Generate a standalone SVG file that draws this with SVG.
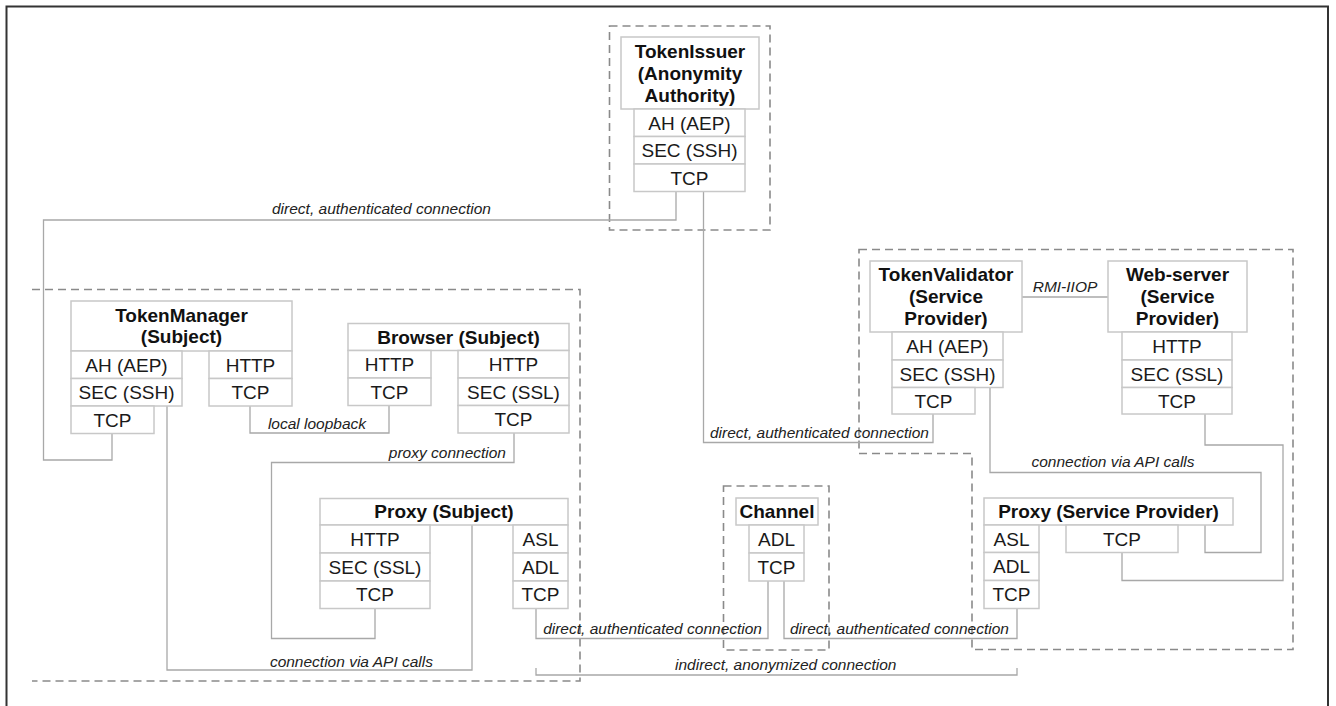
<svg xmlns="http://www.w3.org/2000/svg" width="1336" height="706" viewBox="0 0 1336 706">
<style>
.b{fill:#fff;stroke:#c8c8c8;stroke-width:1.5}
.t{font-family:"Liberation Sans",Arial,sans-serif;font-size:19px;fill:#1a1a1a;text-anchor:middle}
.h{font-family:"Liberation Sans",Arial,sans-serif;font-size:19px;font-weight:bold;fill:#111;text-anchor:middle}
.l{font-family:"Liberation Sans",Arial,sans-serif;font-size:15.5px;font-style:italic;fill:#222}
.c{fill:none;stroke:#a8a8a8;stroke-width:1.3}
.d{fill:none;stroke:#8a8a8a;stroke-width:1.6;stroke-dasharray:8,5}
</style>
<rect width="1336" height="706" fill="#fff"/>
<path d="M6.5,706 V6.5 H1328 V706" fill="none" stroke="#333" stroke-width="2"/>
<g id="regions">
<rect class="d" x="609.5" y="26" width="160.5" height="204"/>
<path class="d" d="M32,289.5 H580 V681 H32"/>
<path class="d" d="M859,249.5 H1293 V649.5 H972 V453.5 H859 Z"/>
<rect class="d" x="723.5" y="486" width="105.5" height="164"/>
</g>
<g id="connectors">
<path class="c" d="M676,191.5 V220 H43.5 V460 H112 V433.5"/>
<text class="l" x="272" y="213.5">direct, authenticated connection</text>
<path class="c" d="M703.5,191.5 V442.5 H933 V414"/>
<text class="l" x="710" y="437.5">direct, authenticated connection</text>
<path class="c" d="M250,406 V433 H389 V405.5"/>
<text class="l" x="317" y="429" text-anchor="middle">local loopback</text>
<path class="c" d="M514,433 V462.5 H271.5 V638.5 H375 V608.5"/>
<text class="l" x="506" y="457.5" text-anchor="end">proxy connection</text>
<path class="c" d="M167,406 V670 H472 V525"/>
<text class="l" x="433" y="666.5" text-anchor="end">connection via API calls</text>
<path class="c" d="M536,608.5 V638.5 H768 V581"/>
<text class="l" x="762" y="634" text-anchor="end">direct, authenticated connection</text>
<path class="c" d="M784,581 V638.5 H1017 V608.5"/>
<text class="l" x="790" y="634">direct, authenticated connection</text>
<path class="c" d="M536,668 V675 H1017 V668"/>
<text class="l" x="675" y="670">indirect, anonymized connection</text>
<path class="c" d="M1022,297 H1108"/>
<text class="l" x="1065" y="292" text-anchor="middle">RMI-IIOP</text>
<path class="c" d="M990,387.5 V472.5 H1261 V552.5 H1205 V525"/>
<text class="l" x="1113" y="467" text-anchor="middle">connection via API calls</text>
<path class="c" d="M1205,414 V445 H1283 V580.5 H1122 V552.5"/>
</g>
<g id="tokenissuer">
<rect class="b" x="621" y="37" width="138" height="72"/>
<text class="h" x="690" y="57.5">TokenIssuer</text>
<text class="h" x="690" y="79.5">(Anonymity</text>
<text class="h" x="690" y="101.5">Authority)</text>
<rect class="b" x="634" y="109" width="111" height="27.5"/>
<text class="t" x="689.5" y="129.5">AH (AEP)</text>
<rect class="b" x="634" y="136.5" width="111" height="27.5"/>
<text class="t" x="689.5" y="157">SEC (SSH)</text>
<rect class="b" x="634" y="164" width="111" height="27.5"/>
<text class="t" x="689.5" y="184.5">TCP</text>
</g>
<g id="tokenmanager">
<rect class="b" x="71" y="301" width="221" height="50"/>
<text class="h" x="181.5" y="321.5">TokenManager</text>
<text class="h" x="181.5" y="343">(Subject)</text>
<rect class="b" x="71" y="351" width="111" height="27.5"/>
<text class="t" x="126.5" y="371.5">AH (AEP)</text>
<rect class="b" x="71" y="378.5" width="111" height="27.5"/>
<text class="t" x="126.5" y="399">SEC (SSH)</text>
<rect class="b" x="71" y="406" width="83" height="27.5"/>
<text class="t" x="112.5" y="426.5">TCP</text>
<rect class="b" x="209" y="351" width="83" height="27.5"/>
<text class="t" x="250.5" y="371.5">HTTP</text>
<rect class="b" x="209" y="378.5" width="83" height="27.5"/>
<text class="t" x="250.5" y="399">TCP</text>
</g>
<g id="browser">
<rect class="b" x="348" y="323.5" width="221" height="27"/>
<text class="h" x="458.5" y="343.5">Browser (Subject)</text>
<rect class="b" x="348" y="350.5" width="83" height="27.5"/>
<text class="t" x="389.5" y="371">HTTP</text>
<rect class="b" x="348" y="378" width="83" height="27.5"/>
<text class="t" x="389.5" y="398.5">TCP</text>
<rect class="b" x="458" y="350.5" width="111" height="27.5"/>
<text class="t" x="513.5" y="371">HTTP</text>
<rect class="b" x="458" y="378" width="111" height="27.5"/>
<text class="t" x="513.5" y="398.5">SEC (SSL)</text>
<rect class="b" x="458" y="405.5" width="111" height="27.5"/>
<text class="t" x="513.5" y="426">TCP</text>
</g>
<g id="proxy-subject">
<rect class="b" x="320" y="498.5" width="248" height="26.5"/>
<text class="h" x="444" y="518">Proxy (Subject)</text>
<rect class="b" x="320" y="525" width="110" height="28"/>
<text class="t" x="375" y="545.5">HTTP</text>
<rect class="b" x="320" y="553" width="110" height="28"/>
<text class="t" x="375" y="573.5">SEC (SSL)</text>
<rect class="b" x="320" y="581" width="110" height="27.5"/>
<text class="t" x="375" y="601">TCP</text>
<rect class="b" x="513" y="525" width="55" height="28"/>
<text class="t" x="540.5" y="545.5">ASL</text>
<rect class="b" x="513" y="553" width="55" height="28"/>
<text class="t" x="540.5" y="573.5">ADL</text>
<rect class="b" x="513" y="581" width="55" height="27.5"/>
<text class="t" x="540.5" y="601">TCP</text>
</g>
<g id="channel">
<rect class="b" x="736" y="498" width="82" height="27"/>
<text class="h" x="777" y="518">Channel</text>
<rect class="b" x="749" y="525" width="55" height="28"/>
<text class="t" x="776.5" y="545.5">ADL</text>
<rect class="b" x="749" y="553" width="55" height="28"/>
<text class="t" x="776.5" y="573.5">TCP</text>
</g>
<g id="tokenvalidator">
<rect class="b" x="870" y="261" width="152" height="71"/>
<text class="h" x="946" y="281">TokenValidator</text>
<text class="h" x="946" y="303">(Service</text>
<text class="h" x="946" y="325">Provider)</text>
<rect class="b" x="892" y="332" width="111" height="28"/>
<text class="t" x="947.5" y="352.5">AH (AEP)</text>
<rect class="b" x="892" y="360" width="111" height="27.5"/>
<text class="t" x="947.5" y="380.5">SEC (SSH)</text>
<rect class="b" x="892" y="387.5" width="83" height="26.5"/>
<text class="t" x="933.5" y="407.5">TCP</text>
</g>
<g id="webserver">
<rect class="b" x="1108" y="261" width="139" height="71"/>
<text class="h" x="1177.5" y="281">Web-server</text>
<text class="h" x="1177.5" y="303">(Service</text>
<text class="h" x="1177.5" y="325">Provider)</text>
<rect class="b" x="1122" y="332" width="110" height="28"/>
<text class="t" x="1177" y="352.5">HTTP</text>
<rect class="b" x="1122" y="360" width="110" height="27.5"/>
<text class="t" x="1177" y="380.5">SEC (SSL)</text>
<rect class="b" x="1122" y="387.5" width="110" height="26.5"/>
<text class="t" x="1177" y="407.5">TCP</text>
</g>
<g id="proxy-sp">
<rect class="b" x="984" y="498" width="249" height="27"/>
<text class="h" x="1108.5" y="518">Proxy (Service Provider)</text>
<rect class="b" x="984" y="525" width="55" height="27.5"/>
<text class="t" x="1011.5" y="545.5">ASL</text>
<rect class="b" x="984" y="552.5" width="55" height="28"/>
<text class="t" x="1011.5" y="573">ADL</text>
<rect class="b" x="984" y="580.5" width="55" height="28"/>
<text class="t" x="1011.5" y="601">TCP</text>
<rect class="b" x="1066" y="525" width="112" height="27.5"/>
<text class="t" x="1122" y="545.5">TCP</text>
</g>
</svg>
